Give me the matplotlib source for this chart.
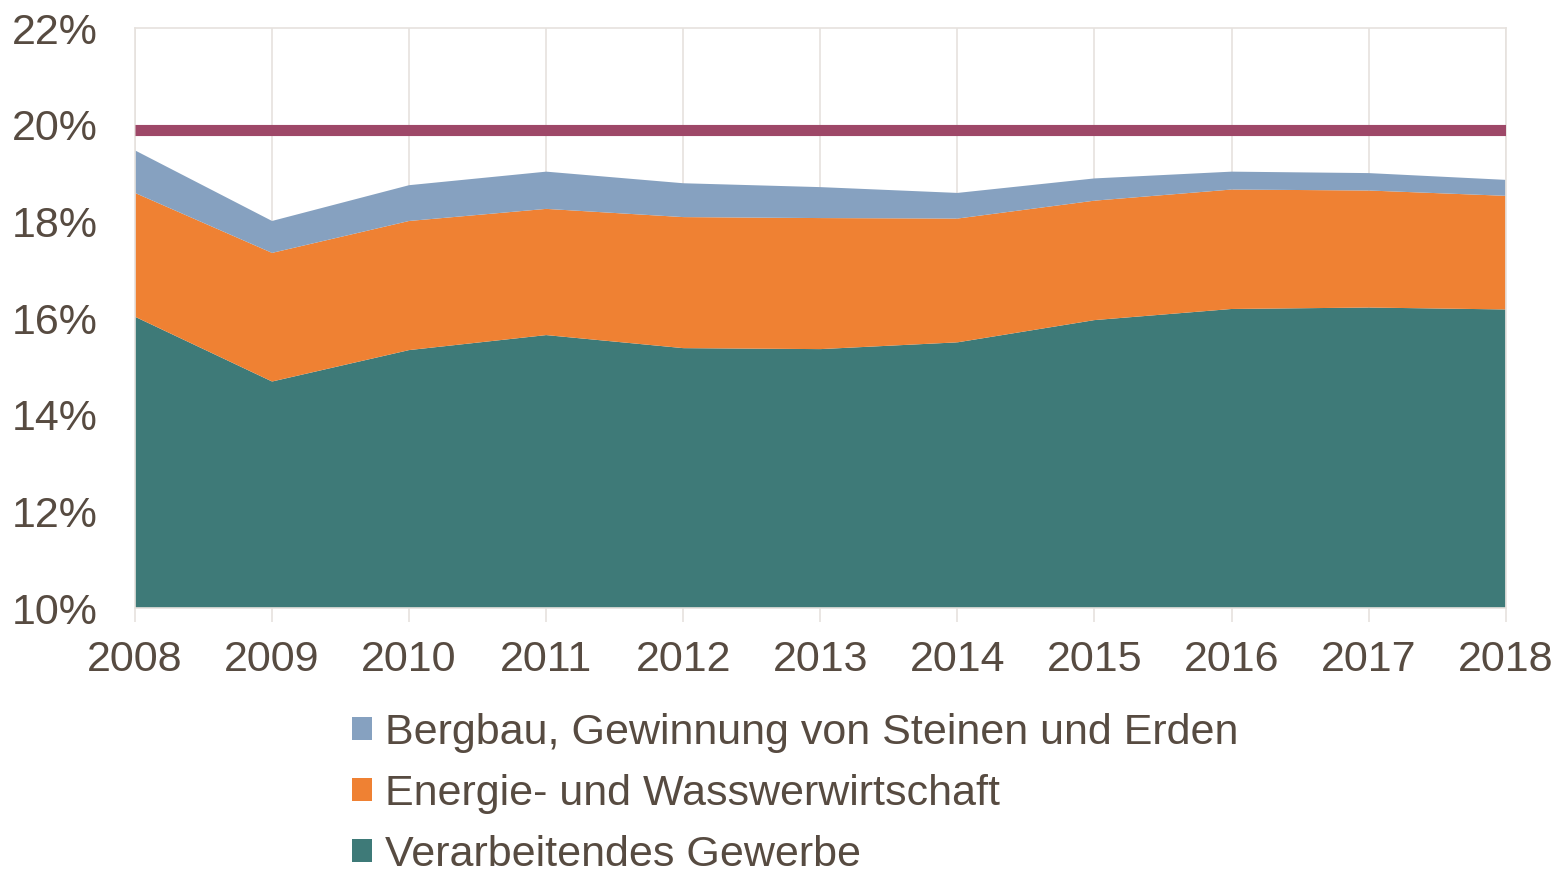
import numpy as np
import matplotlib.pyplot as plt
from matplotlib.patches import Patch

plt.rcParams['font.family'] = ['Liberation Sans', 'DejaVu Sans']

years = [2008, 2009, 2010, 2011, 2012, 2013, 2014, 2015, 2016, 2017, 2018]
verarbeitendes = [16.03, 14.69, 15.34, 15.65, 15.38, 15.36, 15.50, 15.96, 16.19, 16.22, 16.18]
energie = [2.56, 2.66, 2.67, 2.61, 2.71, 2.71, 2.56, 2.47, 2.47, 2.42, 2.35]
bergbau = [0.88, 0.66, 0.74, 0.77, 0.70, 0.64, 0.53, 0.46, 0.37, 0.36, 0.33]
ziel = [19.9] * len(years)

labels = ['Verarbeitendes Gewerbe', 'Energie- und Wasswerwirtschaft',
          'Bergbau, Gewinnung von Steinen und Erden']
colors = ['#3E7A78', '#EF8133', '#86A1C0']
text_col = '#574B41'
grid_col = '#E6E2DE'
fs = 31

fig = plt.figure(figsize=(15.55, 8.73), dpi=100)
ax = fig.add_axes([0.0868, 0.3032, 0.8815, 0.6647])

ax.stackplot(years, verarbeitendes, energie, bergbau, colors=colors,
             baseline='zero', linewidth=0, zorder=2)
ax.plot(years, ziel, color='#9E4868', linewidth=8, solid_capstyle='butt', zorder=3)

ax.set_xlim(2008, 2018)
ax.set_ylim(10, 22)
ax.set_xticks(years)
ax.set_yticks(np.arange(10, 23, 2))
ax.set_yticklabels([f'{v}%' for v in range(10, 23, 2)])
ax.grid(axis='x', color=grid_col, linewidth=1.2, zorder=0)
ax.set_axisbelow(True)
for s in ax.spines.values():
    s.set_color(grid_col)
    s.set_linewidth(1.2)
ax.tick_params(axis='x', length=10, color=grid_col, width=1.2, pad=13,
               labelsize=fs, labelcolor=text_col)
ax.tick_params(axis='y', length=0, pad=27, labelsize=fs, labelcolor=text_col)

handles = [Patch(facecolor=colors[i], edgecolor='none', label=labels[i]) for i in (2, 1, 0)]
fig.legend(handles=handles, loc='upper left', bbox_to_anchor=(0.2264, 0.1835),
           frameon=False, fontsize=fs, labelcolor=text_col, handlelength=0.465,
           handleheight=0.465, handletextpad=0.3, labelspacing=0.49,
           borderpad=0, borderaxespad=0)

fig.savefig('out.png', dpi=100)
